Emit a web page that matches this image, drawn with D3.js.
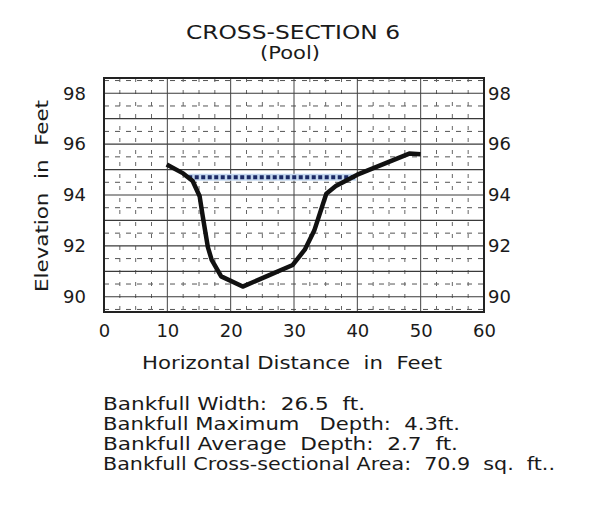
<!DOCTYPE html>
<html>
<head>
<meta charset="utf-8">
<script src="https://cdn.jsdelivr.net/npm/d3@7"></script>
<style>
  body { margin: 0; background: #fff; }
  text { font-family: "DejaVu Sans", sans-serif; fill: #1a1a1a; }
</style>
</head>
<body>
<script>
// channel profile
var stationFt = [9.9, 12.5, 14.0, 15.1, 15.6, 16.4, 17.0, 18.5, 21.9, 26.1, 29.8, 31.7, 33.2, 35.1, 36.6, 40.0, 48.2, 50.0];
var elevFt    = [95.2, 94.85, 94.55, 93.95, 93.15, 91.95, 91.45, 90.8, 90.4, 90.85, 91.25, 91.85, 92.6, 94.05, 94.35, 94.8, 95.63, 95.6];

// bankfull water surface
var bankfullX = [13.3, 39.8];
var bankfullElev = [94.7, 94.7];

var xTicks = [0, 10, 20, 30, 40, 50, 60];
var yTicks = [90, 92, 94, 96, 98];

var titleLines = ["CROSS-SECTION 6", "(Pool)"];
var summaryLines = [
  "Bankfull Width:  26.5  ft.",
  "Bankfull Maximum   Depth:  4.3ft.",
  "Bankfull Average  Depth:  2.7  ft.",
  "Bankfull Cross-sectional Area:  70.9  sq.  ft.."
];

(function() {
  var width = 590, height = 510;
  var left = 104, right = 484, top = 78, bottom = 312;

  var svg = d3.select('body').append('svg')
    .attr('width', width)
    .attr('height', height);

  var x = d3.scaleLinear().domain([0, 60]).range([left, right]);
  var y = d3.scaleLinear().domain([89.4, 98.6]).range([bottom, top]);

  var grid = svg.append('g');

  // half-foot dashed rows
  grid.selectAll('.hdash')
    .data(d3.range(89.5, 98.6, 1))
    .enter().append('line')
      .attr('x1', left).attr('x2', right)
      .attr('y1', d => y(d)).attr('y2', d => y(d))
      .attr('stroke', '#555')
      .attr('stroke-width', 1)
      .attr('stroke-dasharray', '5,6');

  // dashed columns every 2.5 ft
  grid.selectAll('.vdash')
    .data(d3.range(2.5, 60, 2.5).filter(d => d % 10 != 0))
    .enter().append('line')
      .attr('x1', d => x(d)).attr('x2', d => x(d))
      .attr('y1', top).attr('y2', bottom)
      .attr('stroke', '#666')
      .attr('stroke-width', 1)
      .attr('stroke-dasharray', '4,8');

  // solid rows every foot
  grid.selectAll('.hsolid')
    .data(d3.range(90, 98.1, 1))
    .enter().append('line')
      .attr('x1', left).attr('x2', right)
      .attr('y1', d => y(d)).attr('y2', d => y(d))
      .attr('stroke', '#3a3a3a')
      .attr('stroke-width', 1.2);

  // solid columns every 10 ft
  grid.selectAll('.vsolid')
    .data(d3.range(10, 60, 10))
    .enter().append('line')
      .attr('x1', d => x(d)).attr('x2', d => x(d))
      .attr('y1', top).attr('y2', bottom)
      .attr('stroke', '#444')
      .attr('stroke-width', 1);

  // frame
  svg.append('rect')
    .attr('x', left).attr('y', top)
    .attr('width', right - left).attr('height', bottom - top)
    .attr('fill', 'none')
    .attr('stroke', '#222')
    .attr('stroke-width', 2);

  // tick labels through d3 axes
  var axL = svg.append('g')
    .attr('transform', 'translate(' + (left - 18) + ',0)')
    .call(d3.axisLeft(y).tickValues(yTicks).tickSize(0).tickPadding(0));
  var axR = svg.append('g')
    .attr('transform', 'translate(' + (right + 4) + ',0)')
    .call(d3.axisRight(y).tickValues(yTicks).tickSize(0).tickPadding(0));
  var axB = svg.append('g')
    .attr('transform', 'translate(0,' + (bottom + 9) + ')')
    .call(d3.axisBottom(x).tickValues(xTicks).tickSize(0).tickPadding(0));

  [axL, axR, axB].forEach(function(a) {
    a.select('.domain').remove();
    a.selectAll('text')
      .style('font-family', '"DejaVu Sans", sans-serif')
      .style('font-size', '18px')
      .attr('fill', '#1a1a1a');
  });
  axB.selectAll('text').attr('dy', '0.9em');

  // bankfull line: pale halo then navy dashes
  var bank = bankfullX.map((d, i) => [d, bankfullElev[i]]);
  var flat = d3.line().x(d => x(d[0])).y(d => y(d[1]));
  svg.append('path')
    .attr('d', flat(bank))
    .attr('fill', 'none')
    .attr('stroke', '#c5d8ef')
    .attr('stroke-width', 7);
  svg.append('path')
    .attr('d', flat(bank))
    .attr('fill', 'none')
    .attr('stroke', '#1c2a66')
    .attr('stroke-width', 4)
    .attr('stroke-dasharray', '4,2.5');

  // ground profile
  var pts = stationFt.map((d, i) => [d, elevFt[i]]);
  svg.append('path')
    .attr('d', d3.line().x(d => x(d[0])).y(d => y(d[1]))(pts))
    .attr('fill', 'none')
    .attr('stroke', '#111')
    .attr('stroke-width', 4.5)
    .attr('stroke-linejoin', 'round')
    .attr('stroke-linecap', 'butt');

  // titles
  svg.append('text')
    .attr('x', 293).attr('y', 39)
    .attr('text-anchor', 'middle')
    .attr('textLength', 214)
    .attr('lengthAdjust', 'spacingAndGlyphs')
    .style('font-size', '19px')
    .text(titleLines[0]);
  svg.append('text')
    .attr('x', 290).attr('y', 59)
    .attr('text-anchor', 'middle')
    .attr('textLength', 60)
    .attr('lengthAdjust', 'spacingAndGlyphs')
    .style('font-size', '17px')
    .text(titleLines[1]);

  svg.append('text')
    .attr('x', 292).attr('y', 369)
    .attr('text-anchor', 'middle')
    .attr('textLength', 300)
    .attr('lengthAdjust', 'spacingAndGlyphs')
    .attr('xml:space', 'preserve')
    .style('font-size', '18px')
    .text('Horizontal Distance  in  Feet');

  svg.append('text')
    .attr('transform', 'translate(48,196) rotate(-90)')
    .attr('text-anchor', 'middle')
    .attr('textLength', 192)
    .attr('lengthAdjust', 'spacingAndGlyphs')
    .attr('xml:space', 'preserve')
    .style('font-size', '18px')
    .text('Elevation  in  Feet');

  // summary block
  var lineWidths = [262, 357, 355, 452];
  svg.selectAll('.summary')
    .data(summaryLines)
    .enter().append('text')
      .attr('x', 103)
      .attr('y', (d, i) => 410 + i * 20)
      .attr('textLength', (d, i) => lineWidths[i])
      .attr('lengthAdjust', 'spacingAndGlyphs')
      .attr('xml:space', 'preserve')
      .style('font-size', '18px')
      .text(d => d);
})();
</script>
</body>
</html>
